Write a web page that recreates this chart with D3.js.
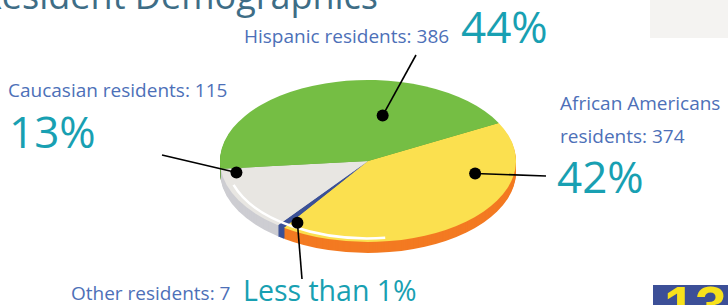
<!DOCTYPE html>
<html>
<head>
<meta charset="utf-8">
<script src="https://cdn.jsdelivr.net/npm/d3@7"></script>
<style>
  body { margin: 0; background: #fff; }
  svg { display: block; font-family: "Open Sans", sans-serif; }
</style>
</head>
<body>
<svg id="chart"></svg>
<script>
const width = 728, height = 305;

// data
const categories = ["African Americans residents", "Other residents", "Caucasian residents", "Hispanic residents"];
const counts = [374, 7, 115, 386];
const pctLabels = ["42%", "Less than 1%", "13%", "44%"];
const topColors = ["#fbe04f", "#3b5197", "#e8e6e2", "#75be44"];
const sideColors = ["#f37a22", "#3b5197", "#cdcdd2", "#5d9a35"];

const cx = 368, cy = 161, rx = 148, ry = 81, depth = 11;
const startAngle = 62 * Math.PI / 180;

const svg = d3.select("#chart").attr("width", width).attr("height", height);

// title (cut off at top in the original)
svg.append("text")
    .attr("x", 378).attr("y", 9)
    .attr("text-anchor", "end")
    .attr("fill", "#3e6d86")
    .attr("font-size", 36)
    .text("Resident Demographics");

// grey box top right
svg.append("rect").attr("x", 650).attr("y", 0).attr("width", 78).attr("height", 38).attr("fill", "#f4f3f1");

const pie = d3.pie().sort(null).startAngle(startAngle).endAngle(startAngle + 2 * Math.PI);
const arcs = pie(counts);
const arc = d3.arc().innerRadius(0).outerRadius(rx);

// side: stack of layers
for (let i = depth; i >= 1; i--) {
    svg.append("g")
        .attr("transform", `translate(${cx},${cy + i}) scale(1,${ry / rx})`)
        .selectAll("path")
        .data(arcs)
        .join("path")
        .attr("d", arc)
        .attr("fill", (d, j) => sideColors[j]);
}

// top face
const topFace = svg.append("g").attr("transform", `translate(${cx},${cy}) scale(1,${ry / rx})`);
topFace.selectAll("path.slice")
    .data(arcs)
    .join("path")
    .attr("class", "slice")
    .attr("d", arc)
    .attr("fill", (d, j) => topColors[j]);

// rim highlight
topFace.append("path")
    .attr("d", d3.arc().innerRadius(rx * 0.955).outerRadius(rx * 0.955)
        .startAngle(173 * Math.PI / 180).endAngle(252 * Math.PI / 180)())
    .attr("fill", "none")
    .attr("stroke", "#fff")
    .attr("stroke-width", 2.5)
    .attr("vector-effect", "non-scaling-stroke");

// callouts: dot angle (deg), radius fraction, line end
const callouts = [
    { a: 102, r: 0.74, x2: 546, y2: 176 },
    { a: 212, r: 0.9, x2: 302, y2: 279 },
    { a: 261, r: 0.9, x2: 162, y2: 155 },
    { a: 10, r: 0.57, x2: 416, y2: 55 }
];
const proj = c => {
    const t = c.a * Math.PI / 180;
    return [cx + Math.sin(t) * rx * c.r, cy - Math.cos(t) * ry * c.r];
};
callouts.forEach(c => {
    const [x, y] = proj(c);
    svg.append("line").attr("x1", x).attr("y1", y).attr("x2", c.x2).attr("y2", c.y2)
        .attr("stroke", "#000").attr("stroke-width", 1.6);
    svg.append("circle").attr("cx", x).attr("cy", y).attr("r", 6).attr("fill", "#000");
});

// labels
const labelColor = "#4d70b8", pctColor = "#18a0b2";
const label = (x, y, t, size, color) =>
    svg.append("text").attr("x", x).attr("y", y).attr("font-size", size).attr("fill", color).text(t);

label(244, 43, `${categories[3]}: ${counts[3]}`, 19, labelColor);
label(461, 43, pctLabels[3], 44, pctColor);
label(8, 97, `${categories[2]}: ${counts[2]}`, 19, labelColor);
label(9, 148, pctLabels[2], 44, pctColor);
label(560, 110, "African Americans", 19, labelColor);
label(560, 143, `residents: ${counts[0]}`, 19, labelColor);
label(557, 193, pctLabels[0], 44, pctColor);
label(71, 300, `${categories[1]}: ${counts[1]}`, 19, labelColor);
label(243, 301, pctLabels[1], 28.5, pctColor);

// page number badge
svg.append("rect").attr("x", 653).attr("y", 285).attr("width", 75).attr("height", 20).attr("fill", "#3c4f97");
svg.append("text").attr("x", 664).attr("y", 325)
    .attr("font-size", 56).attr("font-weight", "bold").attr("fill", "#f7e11c")
    .attr("font-family", "Liberation Sans, sans-serif")
    .text("13");
</script>
</body>
</html>
